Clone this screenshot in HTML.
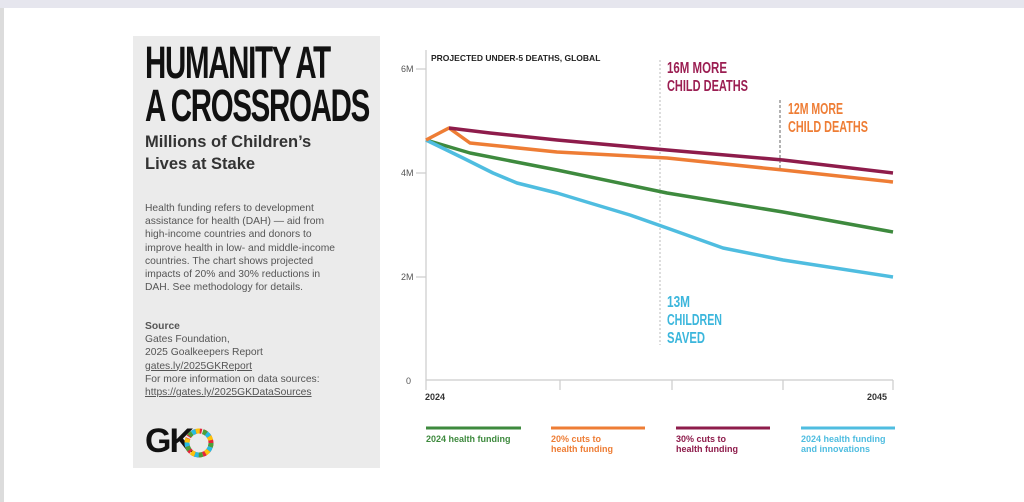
<!DOCTYPE html>
<html><head><meta charset="utf-8"><style>
html,body{margin:0;padding:0;width:1024px;height:502px;background:#fff;overflow:hidden;font-family:"Liberation Sans",sans-serif;}
.top{position:absolute;left:0;top:0;width:1024px;height:8px;background:#e6e6ee;}
.lb{position:absolute;left:0;top:8px;width:4px;height:494px;background:#dcdcdc;}
.panel{position:absolute;left:133px;top:36px;width:247px;height:432px;background:#ebebeb;}
.t{position:absolute;left:12px;top:5px;font-weight:bold;font-size:45px;line-height:43px;color:#111;letter-spacing:-2px;transform:scaleX(0.655);transform-origin:left top;white-space:nowrap;}
.sub{position:absolute;left:12px;top:95px;font-weight:bold;font-size:16.5px;line-height:22px;color:#333;}
.body{position:absolute;left:12px;top:166px;font-size:10.3px;line-height:13.2px;color:#555;width:196px;}
.src{position:absolute;left:12px;top:284px;font-size:10.3px;line-height:13.2px;color:#555;}
.gk{position:absolute;left:12px;top:386px;font-weight:bold;font-size:34px;color:#111;letter-spacing:-2px;}
</style></head><body>
<div class="top"></div><div class="lb"></div>
<div class="panel">
<div class="t">HUMANITY AT<br>A CROSSROADS</div>
<div class="sub">Millions of Children’s<br>Lives at Stake</div>
<div class="body">Health funding refers to development assistance for health (DAH) — aid from high-income countries and donors to improve health in low- and middle-income countries. The chart shows projected impacts of 20% and 30% reductions in DAH. See methodology for details.</div>
<div class="src"><b>Source</b><br>Gates Foundation,<br>2025 Goalkeepers Report<br><u>gates.ly/2025GKReport</u><br>For more information on data sources:<br><u>https://gates.ly/2025GKDataSources</u></div>
<div class="gk">GK</div>
<svg style="position:absolute;left:50px;top:391px" width="32" height="32" viewBox="0 0 32 32">
<circle cx="16" cy="16" r="12" fill="none" stroke-width="5" stroke="#e5243b" stroke-dasharray="4 1.5"/>
<circle cx="16" cy="16" r="12" fill="none" stroke-width="5" stroke="#4c9f38" stroke-dasharray="4 11" />
<circle cx="16" cy="16" r="12" fill="none" stroke-width="5" stroke="#26bde2" stroke-dasharray="4 11" stroke-dashoffset="11"/>
<circle cx="16" cy="16" r="12" fill="none" stroke-width="5" stroke="#fcc30b" stroke-dasharray="4 11" stroke-dashoffset="22"/>
</svg>
</div>
<svg style="position:absolute;left:0;top:0" width="1024" height="502">
<g font-family="Liberation Sans,sans-serif" font-size="9" fill="#555">
<text x="401" y="72">6M</text><text x="401" y="176">4M</text><text x="401" y="280">2M</text><text x="406" y="384">0</text>
<text x="425" y="400" font-weight="bold" fill="#333">2024</text><text x="867" y="400" font-weight="bold" fill="#333">2045</text>
<text x="431" y="61" font-weight="bold" font-size="8.5" fill="#222">PROJECTED UNDER-5 DEATHS, GLOBAL</text>
</g>
<g stroke="#ccc" stroke-width="1.2">
<line x1="426" y1="50" x2="426" y2="390"/><line x1="426" y1="380" x2="893" y2="380"/>
<line x1="560" y1="380" x2="560" y2="390"/><line x1="672" y1="380" x2="672" y2="390"/><line x1="783" y1="380" x2="783" y2="390"/><line x1="893" y1="380" x2="893" y2="390"/>
<line x1="416" y1="69" x2="426" y2="69"/><line x1="416" y1="173" x2="426" y2="173"/><line x1="416" y1="277" x2="426" y2="277"/>
</g>
<line x1="660" y1="60" x2="660" y2="345" stroke="#bbb" stroke-dasharray="2 2"/>
<line x1="780" y1="100" x2="780" y2="168" stroke="#666" stroke-dasharray="3 2"/>
<g fill="none" stroke-width="3.5" stroke-linejoin="round">
<polyline stroke="#3e8a3e" points="426,140 470,153 557,170 667,193 783,212 893,232"/>
<polyline stroke="#4fbde0" points="426,140 463,158 493,173 517,183 557,193 590,203 630,215 667,228 723,248 783,260 893,277"/>
<polyline stroke="#ee7d35" points="426,140 449,128 470,143 557,152 667,158 783,170 893,182"/>
<polyline stroke="#8e1c4b" points="449,128 490,133 557,140 667,150 783,160 893,173"/>
</g>
<g font-family="Liberation Sans,sans-serif" font-weight="bold" font-size="16">
<text x="667" y="73" fill="#9b1e52" textLength="60" lengthAdjust="spacingAndGlyphs">16M MORE</text>
<text x="667" y="91" fill="#9b1e52" textLength="81" lengthAdjust="spacingAndGlyphs">CHILD DEATHS</text>
<text x="788" y="114" fill="#ee7d35" textLength="55" lengthAdjust="spacingAndGlyphs">12M MORE</text>
<text x="788" y="132" fill="#ee7d35" textLength="80" lengthAdjust="spacingAndGlyphs">CHILD DEATHS</text>
<text x="667" y="307" fill="#3bb6dc" textLength="23" lengthAdjust="spacingAndGlyphs">13M</text>
<text x="667" y="325" fill="#3bb6dc" textLength="55" lengthAdjust="spacingAndGlyphs">CHILDREN</text>
<text x="667" y="343" fill="#3bb6dc" textLength="38" lengthAdjust="spacingAndGlyphs">SAVED</text>
</g>
<g stroke-width="3"><line x1="426" y1="428" x2="521" y2="428" stroke="#3e8a3e"/><line x1="551" y1="428" x2="645" y2="428" stroke="#ee7d35"/><line x1="676" y1="428" x2="770" y2="428" stroke="#8e1c4b"/><line x1="801" y1="428" x2="895" y2="428" stroke="#4fbde0"/></g>
<g font-family="Liberation Sans,sans-serif" font-weight="bold" font-size="9">
<text x="426" y="442" fill="#3e8a3e">2024 health funding</text>
<text x="551" y="442" fill="#ee7d35">20% cuts to</text><text x="551" y="452" fill="#ee7d35">health funding</text>
<text x="676" y="442" fill="#8e1c4b">30% cuts to</text><text x="676" y="452" fill="#8e1c4b">health funding</text>
<text x="801" y="442" fill="#4fbde0">2024 health funding</text><text x="801" y="452" fill="#4fbde0">and innovations</text>
</g>
</svg>
</body></html>
